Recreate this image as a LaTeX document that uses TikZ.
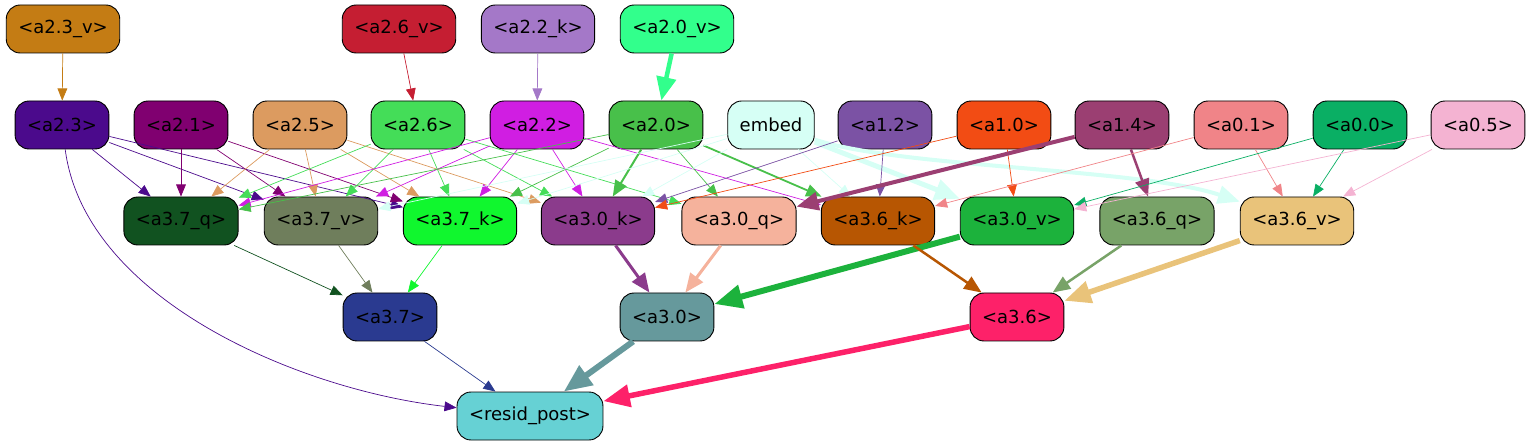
\documentclass[tikz,border=0pt]{standalone}
\usepackage{fontspec}
\setmainfont{DejaVu Sans}
\usetikzlibrary{arrows.meta}
\definecolor{c23v}{RGB}{196,124,20}
\definecolor{c26v}{RGB}{197,30,50}
\definecolor{c22k}{RGB}{164,120,200}
\definecolor{c20v}{RGB}{50,255,140}
\definecolor{c23}{RGB}{75,10,140}
\definecolor{c21}{RGB}{128,0,112}
\definecolor{c25}{RGB}{220,155,96}
\definecolor{c26}{RGB}{68,221,88}
\definecolor{c22}{RGB}{208,30,226}
\definecolor{c20}{RGB}{72,192,74}
\definecolor{cemb}{RGB}{214,255,245}
\definecolor{c12}{RGB}{123,82,164}
\definecolor{c10}{RGB}{242,76,20}
\definecolor{c14}{RGB}{155,63,114}
\definecolor{c01}{RGB}{240,132,136}
\definecolor{c00}{RGB}{10,175,100}
\definecolor{c05}{RGB}{244,179,210}
\definecolor{c37q}{RGB}{17,82,32}
\definecolor{c37v}{RGB}{111,126,92}
\definecolor{c37k}{RGB}{16,247,46}
\definecolor{c30k}{RGB}{139,59,140}
\definecolor{c30q}{RGB}{245,178,156}
\definecolor{c36k}{RGB}{183,86,2}
\definecolor{c30v}{RGB}{28,178,60}
\definecolor{c36q}{RGB}{120,163,104}
\definecolor{c36v}{RGB}{233,195,122}
\definecolor{c37}{RGB}{42,58,144}
\definecolor{c30}{RGB}{102,153,156}
\definecolor{c36}{RGB}{253,33,105}
\definecolor{cres}{RGB}{102,209,212}

\begin{document}
\begin{tikzpicture}[x=1pt,y=-1pt,
    box/.style={draw=black,line width=0.9pt,rounded corners=14pt,fill=#1,
      minimum height=48pt,inner xsep=12pt,font=\fontsize{18}{20}\selectfont},
    lk/.style={draw=#1,line width=0.7pt,-{Triangle[length=10pt 3,width=8pt 2.5]}}]
  \useasboundingbox (0,0) rectangle (1531,443);
  % inputs
  \node[box=c23v] (a23v) at (63,29) {<a2.3\_v>};
  \node[box=c26v] (a26v) at (399,29) {<a2.6\_v>};
  \node[box=c22k] (a22k) at (538,29) {<a2.2\_k>};
  \node[box=c20v] (a20v) at (677,29) {<a2.0\_v>};
  % second row
  \node[box=c23] (a23) at (62,125) {<a2.3>};
  \node[box=c21] (a21) at (181,125) {<a2.1>};
  \node[box=c25] (a25) at (300,125) {<a2.5>};
  \node[box=c26] (a26) at (418,125) {<a2.6>};
  \node[box=c22] (a22) at (537,125) {<a2.2>};
  \node[box=c20] (a20) at (656,125) {<a2.0>};
  \node[box=cemb] (emb) at (771,125) {embed};
  \node[box=c12] (a12) at (885,125) {<a1.2>};
  \node[box=c10] (a10) at (1004,125) {<a1.0>};
  \node[box=c14] (a14) at (1122,125) {<a1.4>};
  \node[box=c01] (a01) at (1241,125) {<a0.1>};
  \node[box=c00] (a00) at (1360,125) {<a0.0>};
  \node[box=c05] (a05) at (1478,125) {<a0.5>};
  % third row
  \node[box=c37q] (a37q) at (181,221) {<a3.7\_q>};
  \node[box=c37v] (a37v) at (321,221) {<a3.7\_v>};
  \node[box=c37k] (a37k) at (460,221) {<a3.7\_k>};
  \node[box=c30k] (a30k) at (598,221) {<a3.0\_k>};
  \node[box=c30q] (a30q) at (739,221) {<a3.0\_q>};
  \node[box=c36k] (a36k) at (878,221) {<a3.6\_k>};
  \node[box=c30v] (a30v) at (1017,221) {<a3.0\_v>};
  \node[box=c36q] (a36q) at (1157,221) {<a3.6\_q>};
  \node[box=c36v] (a36v) at (1297,221) {<a3.6\_v>};
  % fourth row
  \node[box=c37] (a37) at (390,317) {<a3.7>};
  \node[box=c30] (a30) at (667,317) {<a3.0>};
  \node[box=c36] (a36) at (1017,317) {<a3.6>};
  \node[box=cres] (res) at (530,416) {<resid\_post>};

  % edges
  \draw[lk=c23v] (a23v) -- (a23);
  \draw[lk=c26v] (a26v) -- (a26);
  \draw[lk=c22k] (a22k) -- (a22);
  \draw[lk=c20v,line width=4.5pt] (a20v) -- (a20);
  \draw[lk=c23] (a23) -- (a37q);
  \draw[lk=c23] (a23) -- (a37v);
  \draw[lk=c23] (a23) -- (a37k);
  \draw[lk=c23] (a23) .. controls (85,300) and (300,390) .. (res);
  \draw[lk=c21] (a21) -- (a37q);
  \draw[lk=c21] (a21) -- (a37v);
  \draw[lk=c21] (a21) -- (a37k);
  \draw[lk=c25] (a25) -- (a37q);
  \draw[lk=c25] (a25) -- (a37v);
  \draw[lk=c25] (a25) -- (a37k);
  \draw[lk=c25] (a25) -- (a30k);
  \draw[lk=c26] (a26) -- (a37q);
  \draw[lk=c26] (a26) -- (a37v);
  \draw[lk=c26] (a26) -- (a37k);
  \draw[lk=c26] (a26) -- (a30k);
  \draw[lk=c26] (a26) -- (a30q);
  \draw[lk=c22] (a22) -- (a37q);
  \draw[lk=c22] (a22) -- (a37v);
  \draw[lk=c22] (a22) -- (a37k);
  \draw[lk=c22] (a22) -- (a30k);
  \draw[lk=c22] (a22) -- (a36k);
  \draw[lk=c20] (a20) -- (a37q);
  \draw[lk=c20] (a20) -- (a37k);
  \draw[lk=c20,line width=2pt] (a20) -- (a30k);
  \draw[lk=c20] (a20) -- (a30q);
  \draw[lk=c20,line width=1.8pt] (a20) -- (a36k);
  \draw[lk=cemb] (emb) -- (a37v);
  \draw[lk=cemb] (emb) -- (a37k);
  \draw[lk=cemb] (emb) -- (a30k);
  \draw[lk=cemb] (emb) -- (a36k);
  \draw[lk=cemb,line width=5pt] (emb) -- (a30v);
  \draw[lk=cemb,line width=4pt] (emb) .. controls (900,168) and (1140,168) .. (a36v);
  \draw[lk=c12] (a12) -- (a30k);
  \draw[lk=c12] (a12) -- (a36k);
  \draw[lk=c10] (a10) -- (a30k);
  \draw[lk=c10] (a10) -- (a30v);
  \draw[lk=c14,line width=4pt] (a14) -- (a30q);
  \draw[lk=c14,line width=2.5pt] (a14) -- (a36q);
  \draw[lk=c01] (a01) -- (a36k);
  \draw[lk=c01] (a01) -- (a36v);
  \draw[lk=c00] (a00) -- (a30v);
  \draw[lk=c00] (a00) -- (a36v);
  \draw[lk=c05] (a05) -- (a30v);
  \draw[lk=c05] (a05) -- (a36v);
  % into the sums
  \draw[lk=c37q] (a37q) -- (a37);
  \draw[lk=c37v] (a37v) -- (a37);
  \draw[lk=c37k] (a37k) -- (a37);
  \draw[lk=c30k,line width=3pt] (a30k) -- (a30);
  \draw[lk=c30q,line width=3pt] (a30q) -- (a30);
  \draw[lk=c30v,line width=6pt] (a30v) -- (a30);
  \draw[lk=c36k,line width=2.5pt] (a36k) -- (a36);
  \draw[lk=c36q,line width=2.5pt] (a36q) -- (a36);
  \draw[lk=c36v,line width=5.5pt] (a36v) -- (a36);
  \draw[lk=c37] (a37) -- (res);
  \draw[lk=c30,line width=6pt] (a30) -- (res);
  \draw[lk=c36,line width=5.5pt] (a36) -- (res);
\end{tikzpicture}
\end{document}
